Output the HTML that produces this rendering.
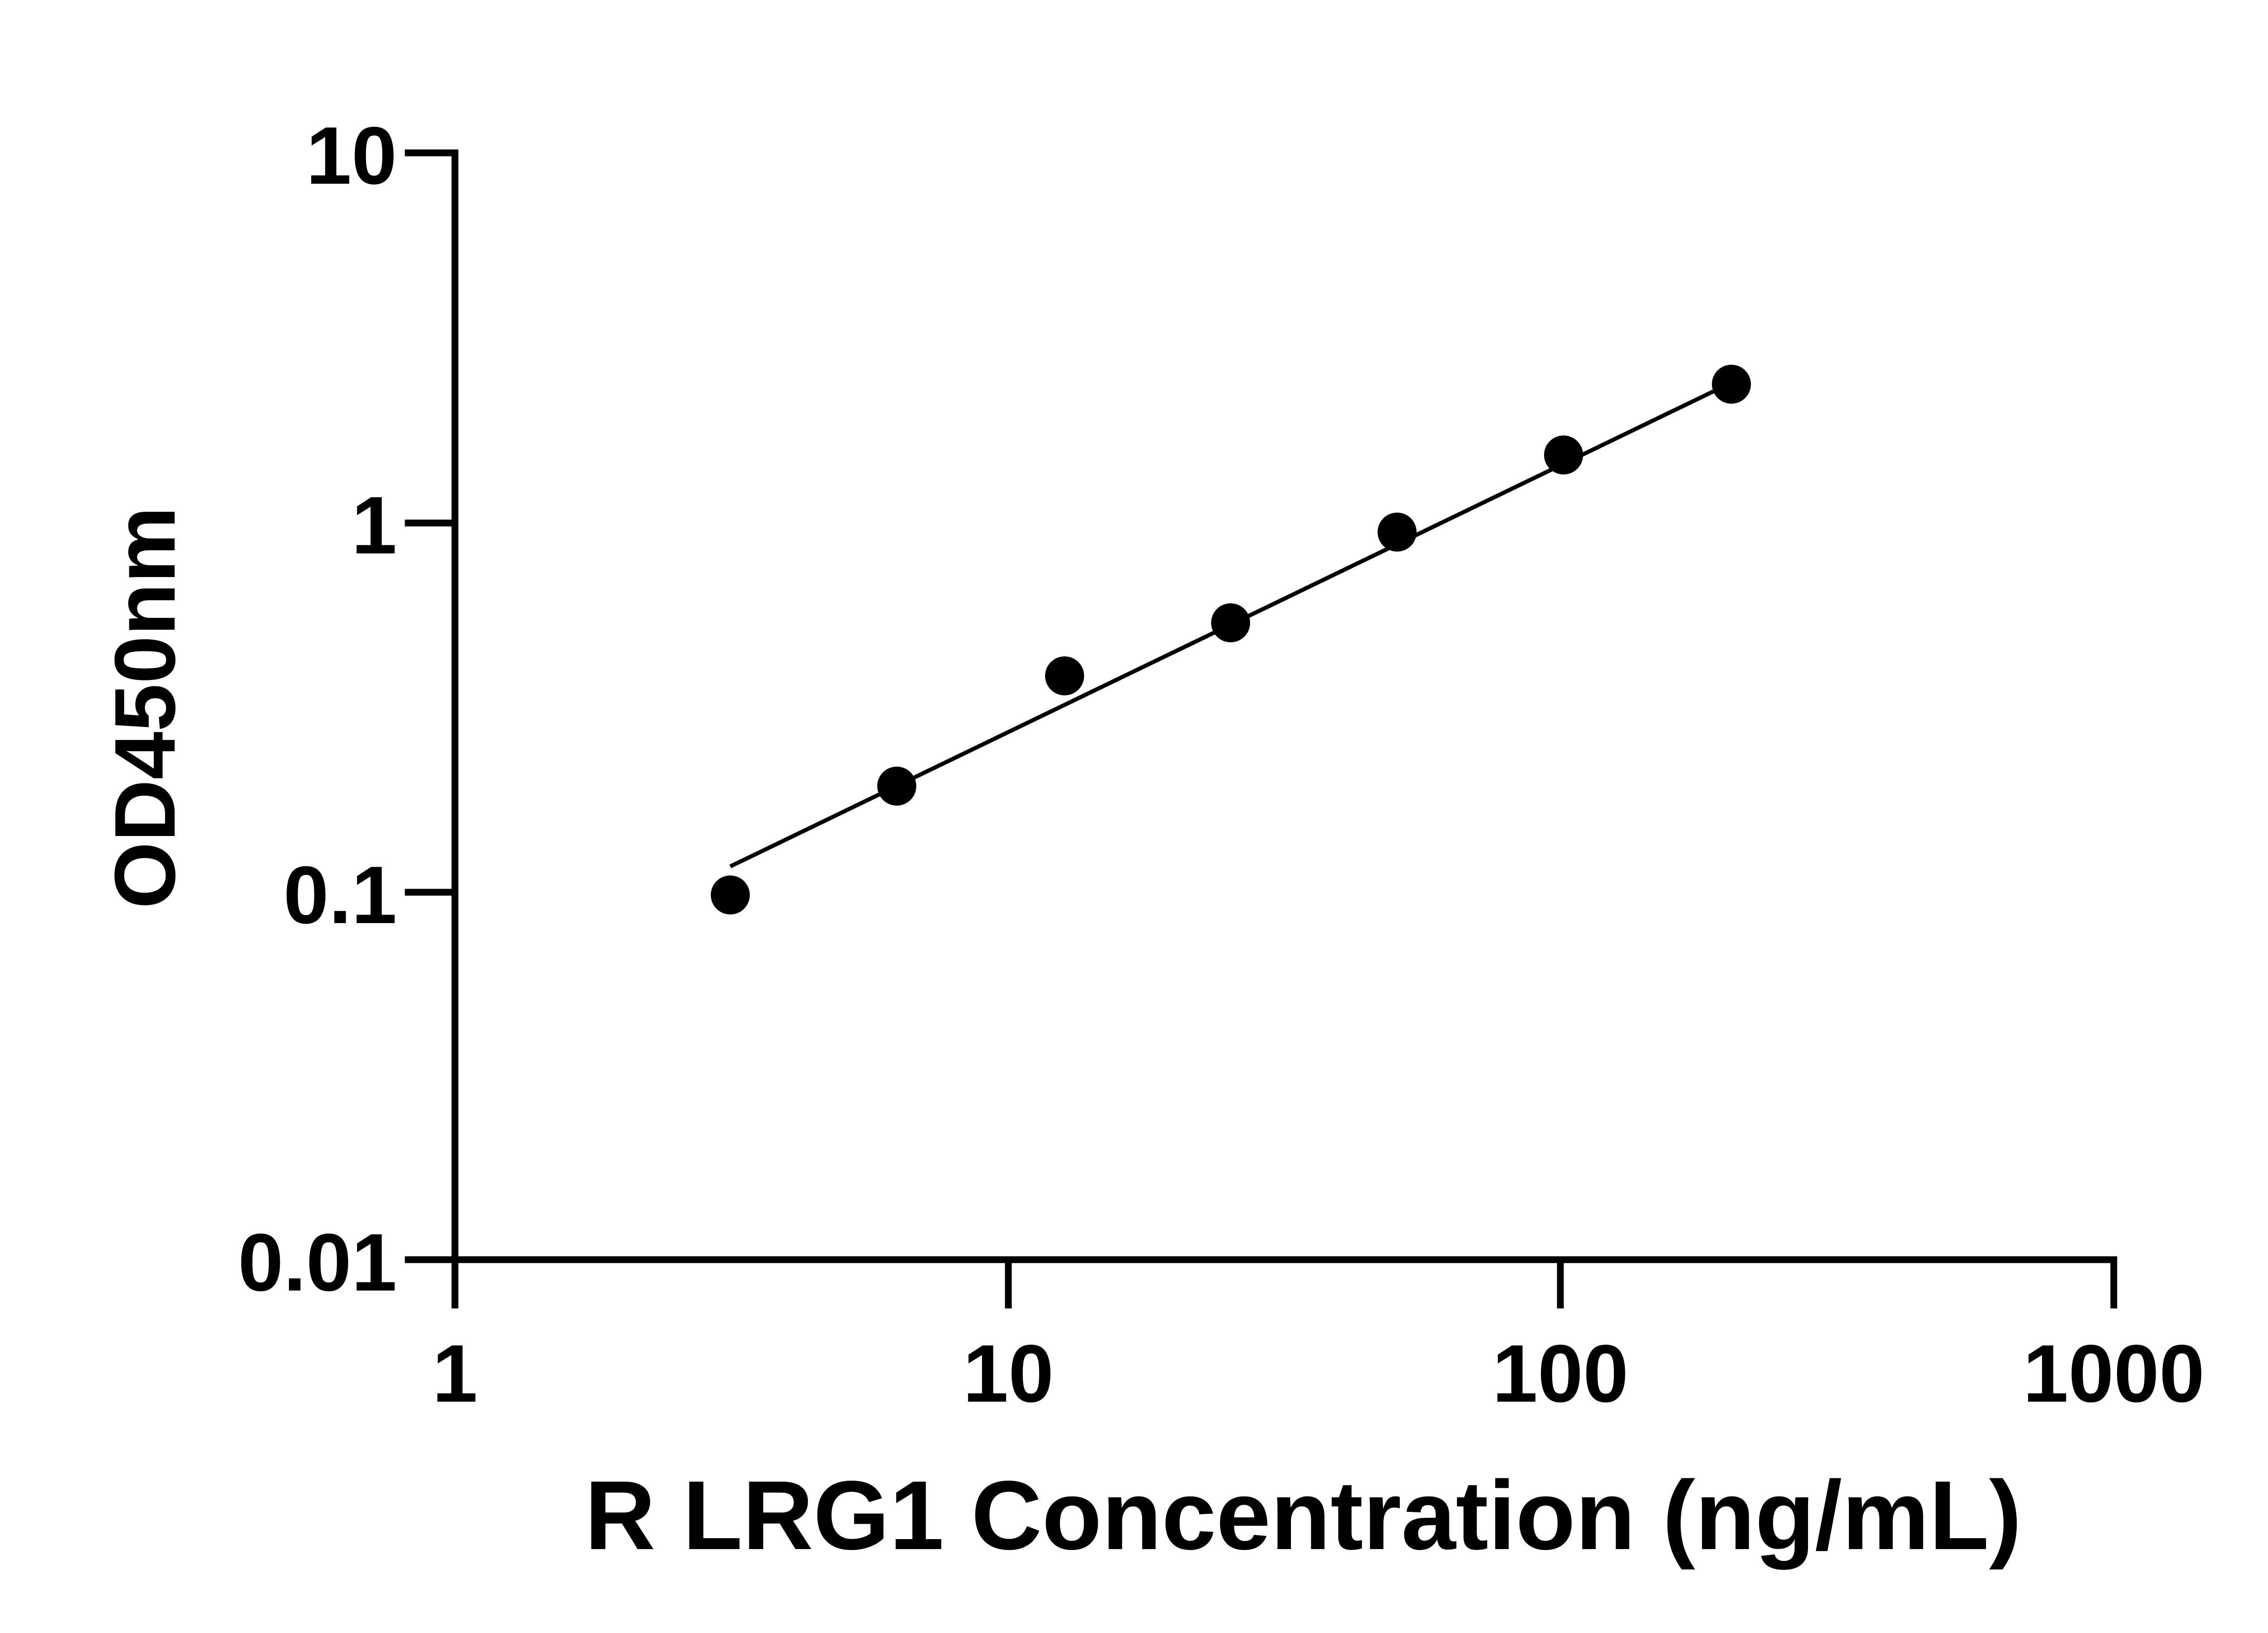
<!DOCTYPE html>
<html><head><style>html,body{margin:0;padding:0;background:#fff}svg{display:block}</style></head>
<body>
<svg width="5142" height="3600" viewBox="0 0 5142 3600" xmlns="http://www.w3.org/2000/svg" font-family="'Liberation Sans', sans-serif" font-weight="bold">
<rect width="5142" height="3600" fill="#fff"/>
<g stroke="#000" stroke-width="15" fill="none" stroke-linecap="square">
<path d="M1003 337 V2777 H4660 V2877"/>
<path d="M900 337 H1003 M900 1153 H1003 M900 1967 H1003 M900 2777 H1003"/>
<path d="M1003 2777 V2877 M2223 2777 V2877 M3440 2777 V2877"/>
</g>
<line x1="1610" y1="1910" x2="3777" y2="863" stroke="#000" stroke-width="9"/>
<g fill="#000">
<circle cx="1610" cy="1973" r="43"/>
<circle cx="1977" cy="1733" r="43"/>
<circle cx="2347" cy="1490" r="43"/>
<circle cx="2713" cy="1373" r="43"/>
<circle cx="3080" cy="1173" r="43"/>
<circle cx="3447" cy="1003" r="43"/>
<circle cx="3817" cy="847" r="43"/>
</g>
<g font-size="180" text-anchor="end" fill="#000">
<text x="875" y="405">10</text>
<text x="875" y="1220">1</text>
<text x="875" y="2035">0.1</text>
<text x="875" y="2845">0.01</text>
</g>
<g font-size="180" text-anchor="middle" fill="#000">
<text x="1003" y="3090">1</text>
<text x="2223" y="3090">10</text>
<text x="3440" y="3090">100</text>
<text x="4660" y="3090">1000</text>
</g>
<text x="2873" y="3415" font-size="216" text-anchor="middle" fill="#000">R LRG1 Concentration (ng/mL)</text>
<text transform="translate(385 1560) rotate(-90)" font-size="190" text-anchor="middle" fill="#000">OD450nm</text>
</svg>
</body></html>
